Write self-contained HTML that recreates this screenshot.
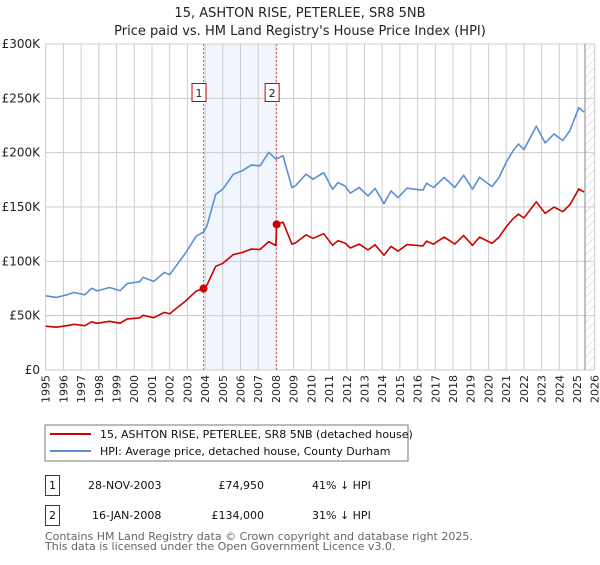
<!DOCTYPE html>
<html><head><meta charset="utf-8"><style>
body{margin:0;background:#fff;font-family:"Liberation Sans","DejaVu Sans",sans-serif;}
svg text{font-family:"DejaVu Sans","Liberation Sans",sans-serif;}
</style></head><body>
<svg width="600" height="560" viewBox="0 0 600 560" xmlns="http://www.w3.org/2000/svg">
<defs><pattern id="hatch" width="6" height="6" patternUnits="userSpaceOnUse" patternTransform="rotate(45)"><line x1="0" y1="0" x2="0" y2="6" stroke="#ccc" stroke-width="1"/></pattern></defs>
<text x="300" y="17" text-anchor="middle" font-size="13" fill="#222">15, ASHTON RISE, PETERLEE, SR8 5NB</text>
<text x="300" y="35" text-anchor="middle" font-size="13" fill="#222">Price paid vs. HM Land Registry's House Price Index (HPI)</text>
<g id="plot"></g>
<rect x="45" y="425" width="363" height="36" fill="#fff" stroke="#777"/>
<line x1="50" y1="434" x2="91" y2="434" stroke="#cc0000" stroke-width="2"/>
<text x="100" y="438" font-size="11" fill="#111">15, ASHTON RISE, PETERLEE, SR8 5NB (detached house)</text>
<line x1="50" y1="451" x2="91" y2="451" stroke="#5b8fd6" stroke-width="2"/>
<text x="100" y="455" font-size="11" fill="#111">HPI: Average price, detached house, County Durham</text>
<rect x="45.5" y="475.5" width="14" height="20" fill="#fff" stroke="#cc0000"/>
<text x="52.5" y="489" text-anchor="middle" font-size="11" fill="#111">1</text>
<text x="88" y="489" font-size="11" fill="#111">28-NOV-2003</text>
<text x="264" y="489" text-anchor="end" font-size="11" fill="#111">£74,950</text>
<text x="312" y="489" font-size="11" fill="#111">41% ↓ HPI</text>
<rect x="45.5" y="505.5" width="14" height="20" fill="#fff" stroke="#cc0000"/>
<text x="52.5" y="519" text-anchor="middle" font-size="11" fill="#111">2</text>
<text x="92" y="519" font-size="11" fill="#111">16-JAN-2008</text>
<text x="264" y="519" text-anchor="end" font-size="11" fill="#111">£134,000</text>
<text x="312" y="519" font-size="11" fill="#111">31% ↓ HPI</text>
<text x="45" y="540" font-size="11" fill="#666">Contains HM Land Registry data © Crown copyright and database right 2025.</text>
<text x="45" y="550" font-size="11" fill="#666">This data is licensed under the Open Government Licence v3.0.</text>
</svg>
<script>
const hpiYears=[1995.0,1995.6,1996.2,1996.6,1997.2,1997.6,1997.9,1998.6,1999.2,1999.6,2000.3,2000.5,2001.1,2001.7,2002.0,2002.9,2003.5,2003.91,2004.1,2004.6,2005.0,2005.6,2006.1,2006.6,2007.1,2007.6,2008.0,2008.04,2008.4,2008.9,2009.1,2009.7,2010.1,2010.7,2011.2,2011.5,2011.9,2012.2,2012.7,2013.2,2013.6,2014.1,2014.5,2014.9,2015.4,2016.3,2016.5,2016.9,2017.5,2018.1,2018.6,2019.1,2019.5,2020.2,2020.6,2021.0,2021.4,2021.7,2022.0,2022.7,2023.2,2023.7,2024.2,2024.6,2025.1,2025.4];
const hpiValues=[68.3,66.8,69.2,71.4,69.2,75.3,72.8,75.9,73.1,79.6,81.2,85.2,81.5,89.8,87.7,107.7,123.1,127.0,132.4,161.7,166.4,180.2,183.3,188.6,187.9,200.3,194.1,194.3,197.2,167.9,169.4,180.2,175.6,181.7,166.4,172.5,169.4,162.7,167.9,160.2,167.0,153.1,164.8,158.6,167.3,165.5,171.9,167.9,177.2,167.9,179.3,166.4,177.2,168.8,177.2,191.0,201.9,208.0,202.8,224.4,209.0,217.3,211.1,220.4,241.4,237.3];
const priceYears=[1995.0,1995.6,1996.2,1996.6,1997.2,1997.6,1997.9,1998.6,1999.2,1999.6,2000.3,2000.5,2001.1,2001.7,2002.0,2002.9,2003.5,2003.91,2004.1,2004.6,2005.0,2005.6,2006.1,2006.6,2007.1,2007.6,2008.0,2008.04,2008.4,2008.9,2009.1,2009.7,2010.1,2010.7,2011.2,2011.5,2011.9,2012.2,2012.7,2013.2,2013.6,2014.1,2014.5,2014.9,2015.4,2016.3,2016.5,2016.9,2017.5,2018.1,2018.6,2019.1,2019.5,2020.2,2020.6,2021.0,2021.4,2021.7,2022.0,2022.7,2023.2,2023.7,2024.2,2024.6,2025.1,2025.4];
const priceValues=[40.3,39.4,40.8,42.1,40.8,44.4,43.0,44.8,43.1,47.0,47.9,50.3,48.1,53.0,51.7,63.5,72.6,74.95,78.1,95.4,98.2,106.3,108.1,111.3,110.9,118.2,114.5,134.0,136.1,115.9,116.9,124.3,121.2,125.4,114.8,119.0,116.9,112.3,115.9,110.5,115.2,105.6,113.7,109.4,115.4,114.2,118.6,115.9,122.3,115.9,123.7,114.8,122.3,116.5,122.3,131.8,139.3,143.5,139.9,154.8,144.2,149.9,145.7,152.1,166.6,163.7];
const saleYears=[2003.91,2008.04];
const saleValues=[74.95,134.0];
const saleLabels=["1","2"];
const yTicks=[0,50,100,150,200,250,300];
const yTickLabels=["£0","£50K","£100K","£150K","£200K","£250K","£300K"];
const xTicks=[1995,1996,1997,1998,1999,2000,2001,2002,2003,2004,2005,2006,2007,2008,2009,2010,2011,2012,2013,2014,2015,2016,2017,2018,2019,2020,2021,2022,2023,2024,2025,2026];

const X0=45.7,X1=594.7,Y0=370,Y1=44;
const xs=y=>X0+(y-1995)/(2026-1995)*(X1-X0);
const ys=v=>Y0-v/300*(Y0-Y1);
const NS="http://www.w3.org/2000/svg";
const g=document.getElementById('plot');
function mk(t,a){const e=document.createElementNS(NS,t);for(const k in a)e.setAttribute(k,a[k]);g.appendChild(e);return e;}
let e;
e=mk('rect',{x:xs(saleYears[0]),y:Y1,width:xs(saleYears[1])-xs(saleYears[0]),height:Y0-Y1,fill:'#eef3fc',opacity:0.8});


e=mk('rect',{x:xs(2025.45),y:Y1,width:X1-xs(2025.45),height:Y0-Y1,fill:'url(#hatch)'});


xTicks.forEach(t=>{
 e=mk('line',{x1:xs(t),x2:xs(t),y1:Y1,y2:Y0,stroke:'#ccc','stroke-width':1});
 
 
 const tx=xs(t)+4;
 e=mk('text',{x:tx,y:375,'text-anchor':'end','font-size':11,fill:'#222',transform:'rotate(-90 '+tx+' 375)'});e.textContent=t;
 
 
});
yTicks.forEach((t,i)=>{
 e=mk('line',{x1:X0,x2:X1,y1:ys(t),y2:ys(t),stroke:'#ccc','stroke-width':1});
 
 
 e=mk('text',{x:40,y:ys(t)+4,'text-anchor':'end','font-size':12,fill:'#222'});e.textContent=yTickLabels[i];
 
 
});
e=mk('line',{x1:xs(2025.45),x2:xs(2025.45),y1:Y1,y2:Y0,stroke:'#888','stroke-width':1});


saleYears.forEach((s,i)=>{
 e=mk('line',{x1:xs(s),x2:xs(s),y1:Y1,y2:Y0,stroke:'#e06060','stroke-width':1,'stroke-dasharray':'2,2'});
 
 
});
const pts=(a,b)=>a.map((y,i)=>xs(y).toFixed(1)+','+ys(b[i]).toFixed(1)).join(' ');
e=mk('polyline',{points:pts(hpiYears,hpiValues),fill:'none',stroke:'#5b8fd6','stroke-width':1.6,'stroke-linejoin':'round'});


e=mk('polyline',{points:pts(priceYears,priceValues),fill:'none',stroke:'#cc0000','stroke-width':1.6,'stroke-linejoin':'round'});


saleYears.forEach((s,i)=>{
 e=mk('circle',{cx:xs(s),cy:ys(saleValues[i]),r:4,fill:'#cc0000'});
 
 
 e=mk('rect',{x:xs(s)-11.5,y:83.5,width:14,height:18,fill:'#fff',stroke:'#cc0000'});
 
 
 e=mk('text',{x:xs(s)-4.5,y:97,'text-anchor':'middle','font-size':11,fill:'#222'});e.textContent=saleLabels[i];
 
 
});
</script>
</body></html>
